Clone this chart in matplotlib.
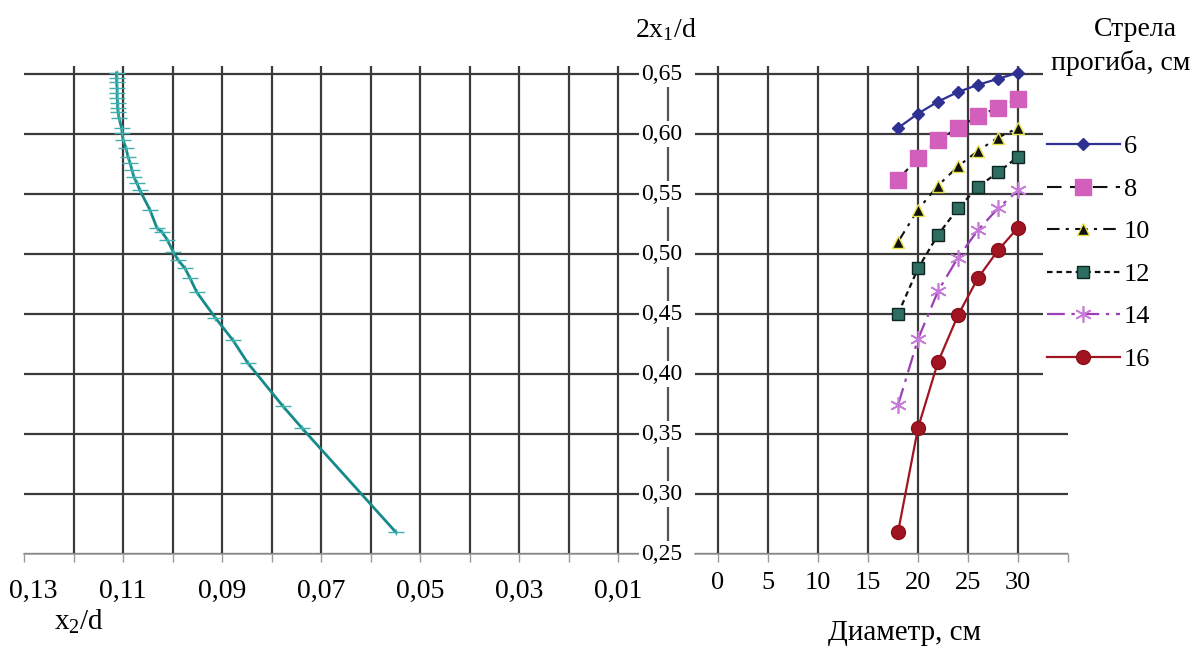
import matplotlib
matplotlib.use("Agg")
import matplotlib.pyplot as plt
from matplotlib.patches import Rectangle
from matplotlib.path import Path
import matplotlib.transforms as mtrans

plt.rcParams['font.family'] = ['Liberation Serif', 'DejaVu Serif']
plt.rcParams['mathtext.fontset'] = 'custom'
plt.rcParams['mathtext.rm'] = 'Liberation Serif'
plt.rcParams['mathtext.it'] = 'Liberation Serif'

# ---------------- data ----------------
# left panel: x2/d versus 2x1/d
x2_d = [0.1113, 0.1113, 0.1113, 0.1112, 0.1112, 0.1112, 0.1111, 0.1111, 0.1110, 0.1108,
        0.1103, 0.1102, 0.1100, 0.1094, 0.1090, 0.1086, 0.1082, 0.1078, 0.1072, 0.1066,
        0.1046, 0.1032, 0.1021, 0.1011, 0.0999, 0.0989, 0.0975, 0.0965, 0.0951, 0.0914,
        0.0878, 0.0848, 0.0777, 0.0739, 0.0549]
y_left = [0.651, 0.647, 0.643, 0.638, 0.634, 0.630, 0.626, 0.622, 0.618, 0.613,
          0.605, 0.601, 0.595, 0.588, 0.581, 0.576, 0.570, 0.564, 0.559, 0.553,
          0.537, 0.522, 0.518, 0.512, 0.502, 0.495, 0.488, 0.480, 0.468, 0.447,
          0.428, 0.409, 0.373, 0.355, 0.268]

# right panel: diameter versus 2x1/d for several deflections
diameter = [18, 20, 22, 24, 26, 28, 30]
deflections = ["6", "8", "10", "12", "14", "16"]
s6 = [0.605, 0.617, 0.627, 0.635, 0.641, 0.646, 0.651]
s8 = [0.562, 0.580, 0.595, 0.605, 0.615, 0.622, 0.629]
s10 = [0.510, 0.537, 0.557, 0.573, 0.586, 0.597, 0.605]
s12 = [0.450, 0.488, 0.516, 0.538, 0.556, 0.568, 0.581]
s14 = [0.374, 0.429, 0.469, 0.497, 0.520, 0.538, 0.553]
s16 = [0.268, 0.355, 0.410, 0.449, 0.480, 0.503, 0.522]
series = [s6, s8, s10, s12, s14, s16]

left_xticks = [0.13, 0.12, 0.11, 0.10, 0.09, 0.08, 0.07, 0.06, 0.05, 0.04, 0.03, 0.02, 0.01]
left_xlabels = ["0,13", "", "0,11", "", "0,09", "", "0,07", "", "0,05", "", "0,03", "", "0,01"]
yticks = [0.25, 0.30, 0.35, 0.40, 0.45, 0.50, 0.55, 0.60, 0.65]
ylabels = ["0,25", "0,30", "0,35", "0,40", "0,45", "0,50", "0,55", "0,60", "0,65"]
right_xticks = [0, 5, 10, 15, 20, 25, 30, 35]
right_xlabels = ["0", "5", "10", "15", "20", "25", "30", ""]

# ---------------- layout ----------------
W, H = 1194, 646
fig = plt.figure(figsize=(W / 100, H / 100), dpi=100)


def box(x0, x1, ytop, ybot):
    return [x0 / W, 1 - ybot / H, (x1 - x0) / W, (ybot - ytop) / H]


GRID = '#3a3a3a'
AXC = '#9a9a9a'

axL = fig.add_axes(box(24, 668, 65.6, 554))
axR = fig.add_axes(box(695, 1068, 65.6, 554))

for ax in (axL, axR):
    ax.set_ylim(0.25, 0.657)
    ax.set_yticks(yticks)
    ax.tick_params(axis='y', left=False, right=False, labelleft=False, labelright=False)
    ax.tick_params(axis='x', direction='out', length=6, width=1, color=AXC)
    for s in ('top', 'left', 'right'):
        ax.spines[s].set_visible(False)
    ax.spines['bottom'].set_color(AXC)
    ax.spines['bottom'].set_linewidth(1.2)
    ax.grid(True, color=GRID, linewidth=1.6)
    ax.set_axisbelow(True)

axL.tick_params(axis='x', labelsize=20, pad=12)
axR.tick_params(axis='x', labelsize=19, pad=7)

# left panel
axL.set_xlim(0.13, 0.0)
axL.set_xticks(left_xticks)
axL.set_xticklabels(left_xlabels)
for t, v in zip(axL.xaxis.get_major_ticks(), left_xticks):
    if abs(v - 0.13) < 1e-9:
        t.gridline.set_visible(False)
first_lab = axL.get_xticklabels()[0]
first_lab.set_transform(first_lab.get_transform() +
                        mtrans.ScaledTranslation(9 / 100, 0, fig.dpi_scale_trans))
axL.spines['right'].set_visible(True)
axL.spines['right'].set_color('#555555')
axL.spines['right'].set_linewidth(1.6)

cross = Path([(-1.0, 0.0), (1.0, 0.0), (0.0, -0.45), (0.0, 0.45)],
             [Path.MOVETO, Path.LINETO, Path.MOVETO, Path.LINETO])
axL.plot(x2_d, y_left, color='#168a8a', linewidth=2.0, marker=cross,
         markersize=11, markeredgewidth=1.0, markeredgecolor='#3fb0ad',
         markerfacecolor='none', zorder=3)

trans = mtrans.blended_transform_factory(axL.transAxes, axL.transData)
for v, lab in zip(yticks, ylabels):
    axL.text(1 - 6 / 644, v, lab, transform=trans, ha='center', va='center',
             fontsize=17, clip_on=False, zorder=5,
             bbox=dict(boxstyle='square,pad=0.1', facecolor='white', edgecolor='none'))

# right panel
axR.set_xlim(-2.3, 35)
axR.set_xticks(right_xticks)
axR.set_xticklabels(right_xlabels)
for t, v in zip(axR.xaxis.get_major_ticks(), right_xticks):
    if v == 35:
        t.gridline.set_visible(False)

styles = [
    dict(color='#2e3192', linestyle='-', marker='D', markersize=6.5,
         markerfacecolor='#2e3192', markeredgecolor='#2e3192', linewidth=1.6),
    dict(color='#111111', linestyle=(0, (7, 4)), marker='s', markersize=11,
         markerfacecolor='#d35fbd', markeredgecolor='#d35fbd', linewidth=1.5),
    dict(color='#111111', linestyle=(0, (6, 3, 1.5, 3)), marker='^', markersize=8,
         markerfacecolor='#111111', markeredgecolor='#e8e24a', linewidth=1.5),
    dict(color='#111111', linestyle=(0, (2.5, 1.8)), marker='s', markersize=9,
         markerfacecolor='#2e6e62', markeredgecolor='#0c2622', linewidth=1.6),
    dict(color='#9b3fb3', linestyle=(0, (8, 3, 1.5, 3)), marker=(6, 2, 0), markersize=12,
         markerfacecolor='#c77ad8', markeredgecolor='#c77ad8', markeredgewidth=1.2,
         linewidth=1.6),
    dict(color='#a11422', linestyle='-', marker='o', markersize=10,
         markerfacecolor='#a11422', markeredgecolor='#8a0f1a', linewidth=1.6),
]
handles = []
for lab, ys, st in zip(deflections, series, styles):
    h, = axR.plot(diameter, ys, label=lab, zorder=3, **st)
    handles.append(h)

# white area behind the legend (covers the grid ends)
fig.add_artist(Rectangle((1043 / W, 1 - 380 / H), (W - 1043) / W, 380 / H,
                         transform=fig.transFigure, facecolor='white',
                         edgecolor='none', zorder=1))

leg = fig.legend(handles=handles, loc='upper left',
                 bbox_to_anchor=(1047 / W, 1 - 135 / H), frameon=False,
                 fontsize=19, handlelength=2.75, handletextpad=0.15,
                 labelspacing=0.72, borderaxespad=0.0, borderpad=0.0)
leg.set_zorder(6)

fig.text(1135 / W, 1 - 30 / H, "Стрела", ha='center', va='center', fontsize=20)
fig.text(1121 / W, 1 - 63 / H, "прогиба, см", ha='center', va='center', fontsize=20)

fig.text(79 / W, 1 - 622 / H, r"$\mathrm{x_2/d}$", ha='center', va='center', fontsize=21)
fig.text(666 / W, 1 - 30 / H, r"$\mathrm{2x_1/d}$", ha='center', va='center', fontsize=20)
fig.text(905 / W, 1 - 633 / H, "Диаметр, см", ha='center', va='center', fontsize=21)

fig.savefig("out.png", dpi=100, facecolor='white')
